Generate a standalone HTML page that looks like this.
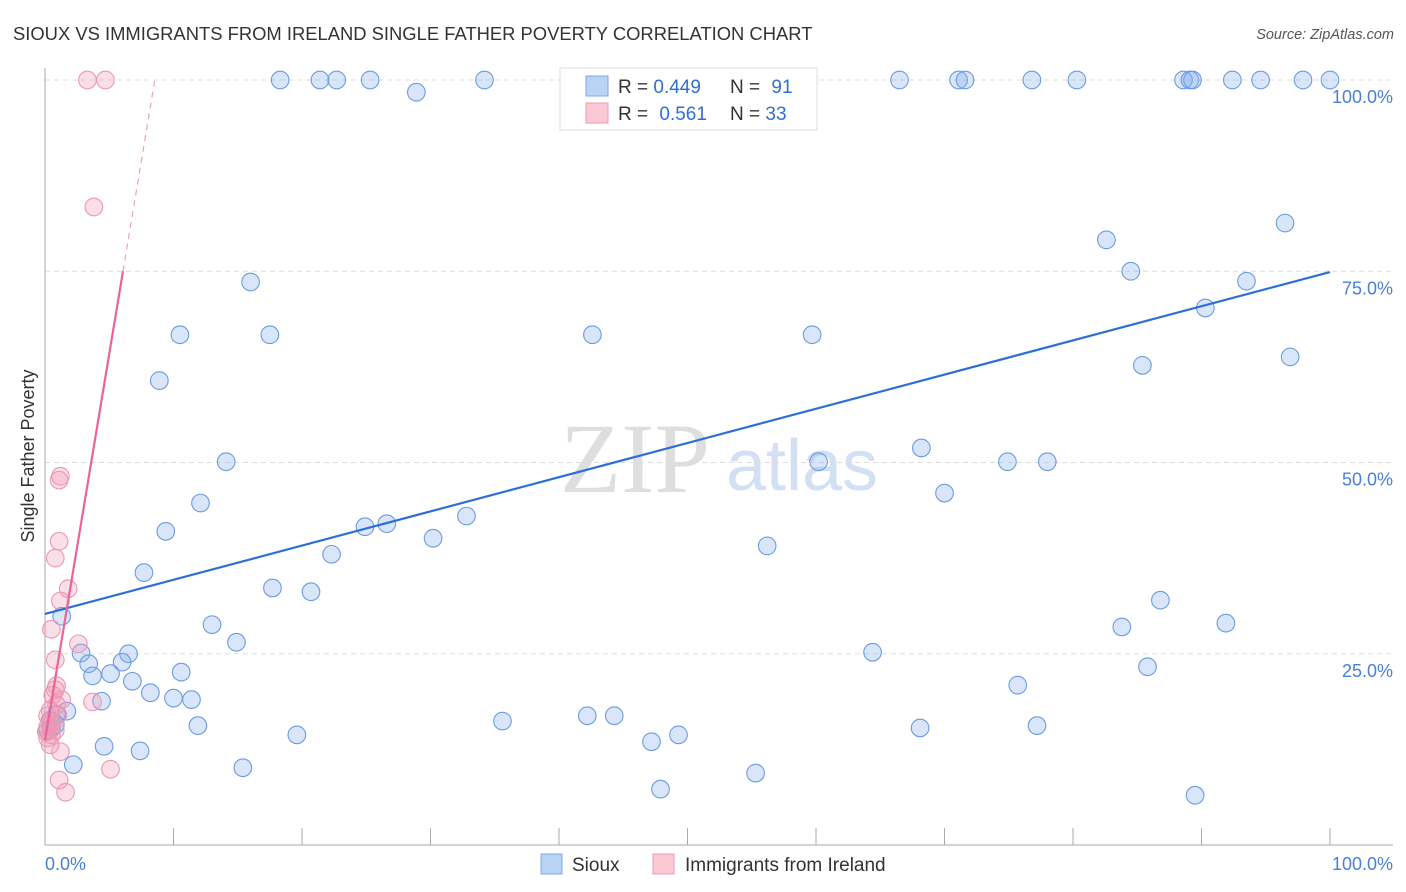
<!DOCTYPE html>
<html><head><meta charset="utf-8"><style>
body{margin:0;background:#fff;font-family:"Liberation Sans",sans-serif;}
svg{display:block}
</style></head><body>
<svg id="chart" width="1406" height="892">
<text x="13" y="40" font-size="18.4" fill="#333">SIOUX VS IMMIGRANTS FROM IRELAND SINGLE FATHER POVERTY CORRELATION CHART</text>
<text x="1394" y="39" font-size="14.5" fill="#555" font-style="italic" text-anchor="end">Source: ZipAtlas.com</text>
<g>
<text x="635" y="492" font-size="100" font-family="Liberation Serif,serif" fill="#dedede" text-anchor="middle">ZIP</text>
<text x="802" y="490" font-size="72" fill="#d3e0f4" text-anchor="middle">atlas</text>
</g>
<g id="grid"></g>
<g id="axes"></g>
<g id="pts"></g>
<g id="lines"></g>
<text transform="translate(34,456) rotate(-90)" font-size="18" fill="#333" text-anchor="middle">Single Father Poverty</text>
<g>
<rect x="560" y="68" width="257" height="62" fill="#fff" stroke="#ddd"/>
<rect x="586" y="76" width="22" height="20" fill="#b9d3f5" stroke="#7ea8e6"/>
<rect x="586" y="103" width="22" height="20" fill="#fbc8d6" stroke="#ee9ab4"/>
<text x="618" y="93" font-size="19" fill="#333">R = <tspan fill="#2f6ed8">0.449</tspan></text>
<text x="730" y="93" font-size="19" fill="#333">N = <tspan fill="#2f6ed8" dx="6">91</tspan></text>
<text x="618" y="120" font-size="19" fill="#333">R = <tspan fill="#2f6ed8" dx="6">0.561</tspan></text>
<text x="730" y="120" font-size="19" fill="#333">N = <tspan fill="#2f6ed8">33</tspan></text>
</g>
<g>
<rect x="541" y="854" width="21" height="20" fill="#b9d3f5" stroke="#7ea8e6"/>
<text x="572" y="871" font-size="19" fill="#333">Sioux</text>
<rect x="653" y="854" width="21" height="20" fill="#fbc8d6" stroke="#ee9ab4"/>
<text x="685" y="871" font-size="19" fill="#333">Immigrants from Ireland</text>
</g>
</svg>
<script>
const yTicks=[25,50,75,100];
const yTickLabels=["25.0%","50.0%","75.0%","100.0%"];
const xTicks=[10,20,30,40,50,60,70,80,90,100];
const siouxX=[18.3,21.4,22.7,25.3,28.9,34.2,46.3,51.9,57.4,66.5,71.1,71.6,76.8,80.3,88.6,89.1,89.3,92.4,94.6,97.9,100,82.6,96.5,84.5,93.5,90.3,85.4,96.9,16.0,10.5,17.5,42.6,59.7,8.9,14.1,68.2,60.2,74.9,78.0,70.0,12.1,9.4,24.9,26.6,32.8,30.2,22.3,56.2,7.7,17.7,20.7,1.3,86.8,13.0,83.8,91.9,14.9,2.8,6.5,64.4,3.4,6.0,5.1,10.6,3.7,6.8,85.8,75.7,8.2,10.0,11.4,4.4,1.7,0.9,35.6,42.2,44.3,11.9,68.1,77.2,19.6,49.3,47.2,4.6,7.4,15.4,2.2,55.3,47.9,89.5,0.5,0.4,0.2,0.8];
const siouxY=[100,100,100,100,98.4,100,100,100,100,100,100,100,100,100,100,100,100,100,100,100,100,79.1,81.3,75.0,73.7,70.2,62.7,63.8,73.6,66.7,66.7,66.7,66.7,60.7,50.1,51.9,50.1,50.1,50.1,46.0,44.7,41.0,41.6,42.0,43.0,40.1,38.0,39.1,35.6,33.6,33.1,29.9,32.0,28.8,28.5,29.0,26.5,25.1,25.0,25.2,23.7,23.9,22.4,22.6,22.1,21.4,23.3,20.9,19.9,19.2,19.0,18.8,17.5,17.1,16.2,16.9,16.9,15.6,15.3,15.6,14.4,14.4,13.5,12.9,12.3,10.1,10.5,9.4,7.3,6.5,15.3,16.3,15.0,15.7];
const irelandX=[3.3,4.7,3.8,1.2,1.1,1.1,0.8,1.8,1.2,0.5,2.6,0.8,0.8,0.9,1.3,3.7,0.4,1.0,0.5,0.2,0.8,0.2,1.2,5.1,1.1,1.6,0.5,0.4,0.2,0.6,0.9,0.4,0.1];
const irelandY=[100,100,83.4,48.2,47.7,39.7,37.5,33.5,31.9,28.2,26.3,24.2,20.3,20.8,19.0,18.7,17.6,17.0,16.1,15.4,15.0,14.0,12.2,9.9,8.5,6.9,14.4,13.1,16.9,19.6,18.3,15.7,14.8];
const siouxTrend=[30.2,74.9];
const irelandTrend=[13.7,10.1];
const X0=45,X1=1330,Y0=845,Y100=80;
const sx=v=>X0+(X1-X0)*v/100;
const sy=v=>Y0-(Y0-Y100)*v/100;
const NS="http://www.w3.org/2000/svg";
function mk(t,a,p){const e=document.createElementNS(NS,t);for(const k in a)e.setAttribute(k,a[k]);p.appendChild(e);return e;}
const grid=document.getElementById('grid'),axes=document.getElementById('axes'),pts=document.getElementById('pts'),lines=document.getElementById('lines');
yTicks.forEach((v,i)=>{
 const l=mk('line',{x1:X0,x2:1393,y1:sy(v),y2:sy(v),stroke:'#ddd','stroke-dasharray':'5,4'},grid);
 
 
 const t=mk('text',{x:1393,y:sy(v)+23,'font-size':18,fill:'#4a7fd6','text-anchor':'end'},axes);
 t.textContent=yTickLabels[i];
 
 
});
let a=mk('line',{x1:X0,x2:X0,y1:68,y2:Y0,stroke:'#aaa'},axes);


a=mk('line',{x1:X0,x2:1393,y1:Y0,y2:Y0,stroke:'#aaa'},axes);


xTicks.forEach(v=>{
 const l=mk('line',{x1:sx(v),x2:sx(v),y1:828,y2:Y0,stroke:'#aaa'},axes);
 
 
});
let t=mk('text',{x:X0,y:870,'font-size':18,fill:'#4a7fd6'},axes);t.textContent='0.0%';


t=mk('text',{x:1393,y:870,'font-size':18,fill:'#4a7fd6','text-anchor':'end'},axes);t.textContent='100.0%';


siouxX.forEach((v,i)=>{
 const c=mk('circle',{cx:sx(v),cy:sy(siouxY[i]),r:8.8,fill:'rgba(130,172,238,0.3)',stroke:'#6b9be0','stroke-width':1.1},pts);
 
 
});
irelandX.forEach((v,i)=>{
 const c=mk('circle',{cx:sx(v),cy:sy(irelandY[i]),r:8.8,fill:'rgba(242,150,178,0.3)',stroke:'#ec98b2','stroke-width':1.1},pts);
 
 
});
let tl=mk('line',{x1:sx(0),y1:sy(siouxTrend[0]),x2:sx(100),y2:sy(siouxTrend[1]),stroke:'#2d6fd6','stroke-width':2.2},lines);


const ie=v=>irelandTrend[0]+irelandTrend[1]*v;
const xs=(75-irelandTrend[0])/irelandTrend[1],xe=(100-irelandTrend[0])/irelandTrend[1];
tl=mk('line',{x1:sx(0),y1:sy(ie(0)),x2:sx(xs),y2:sy(ie(xs)),stroke:'#e8649a','stroke-width':2.2},lines);


tl=mk('line',{x1:sx(xs),y1:sy(ie(xs)),x2:sx(xe),y2:sy(ie(xe)),stroke:'#eca0bd','stroke-width':1.2,'stroke-dasharray':'6,5'},lines);


</script>
</body></html>
